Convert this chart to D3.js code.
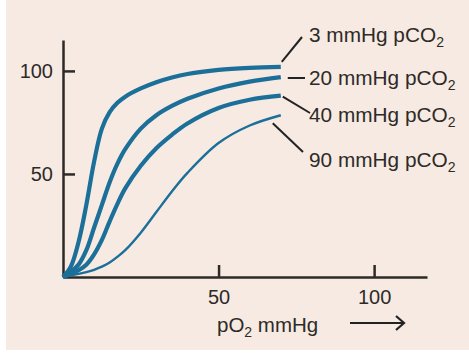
<!DOCTYPE html>
<html>
  <head>
    <meta charset="utf-8" />
    <title>oxygen dissociation curves</title>
    <script src="https://d3js.org/d3.v7.min.js"></script>
    <style>
      body { margin: 0; background: #fff; }
      text { font-family: "Liberation Sans", Arial, sans-serif; fill: #2e2a28; }
    </style>
  </head>
  <body>
    <script>
      // pO2 (mmHg) sample points shared by all curves
      const pO2 = [0, 2.5, 5, 7.5, 10, 12.5, 15, 17.5, 20, 25, 30, 35, 40, 50, 60, 70];

      // % saturation, one list per pCO2
      const sat3 = [0, 5, 17, 35, 56, 72, 80, 84.5, 87.5, 91.5, 94.5, 96.8, 98.5, 100.5, 101.5, 102];
      const sat20 = [0, 2.5, 6, 13, 24, 35, 46, 55, 62, 72, 78.5, 83, 86.5, 91.5, 94.8, 97];
      const sat40 = [0, 1.5, 3.3, 6, 11, 18, 27, 35.5, 43, 54, 62.5, 69, 74.5, 82, 86, 88];
      const sat90 = [0, 0.7, 1.5, 2.4, 3.5, 5, 7, 9.8, 13, 21.5, 31.5, 41.5, 50.5, 65, 73.5, 78.5];

      const seriesNames = ["3", "20", "40", "90"];
      const seriesValues = [sat3, sat20, sat40, sat90];

      const xTicks = [50, 100];
      const yTicks = [50, 100];

      const W = 469, H = 353;
      const blue = "#1b6f98";
      const ink = "#2e2a28";

      const svg = d3.select("body").append("svg")
        .attr("width", W).attr("height", H);

      // pale background panel (thin white strip at left and bottom)
      svg.append("rect").attr("x", 6).attr("y", 0)
        .attr("width", W - 6).attr("height", 350)
        .attr("fill", "#f6eae2");

      const x = d3.scaleLinear().domain([0, 117]).range([63, 427]);
      const y = d3.scaleLinear().domain([0, 115]).range([277, 40]);

      // x axis: ticks point up, labels below
      const gx = svg.append("g").attr("transform", `translate(0,${y(0)})`)
        .call(d3.axisBottom(x).tickValues(xTicks).tickSize(-12).tickSizeOuter(0).tickPadding(13));
      // y axis: ticks point right
      const gy = svg.append("g").attr("transform", `translate(${x(0)},0)`)
        .call(d3.axisLeft(y).tickValues(yTicks).tickSize(-12).tickSizeOuter(0).tickPadding(10));

      [gx, gy].forEach((g) => {
        g.selectAll("path, line").attr("stroke", ink).attr("stroke-width", 2.5);
        g.selectAll("text").attr("font-size", 20).attr("fill", "#333")
          .attr("font-family", "'Liberation Sans', Arial, sans-serif");
      });
      gy.selectAll("text").attr("dy", "0.35em");

      // the curves
      const line = d3.line()
        .x((d, i) => x(pO2[i]))
        .y((d) => y(d))
        .curve(d3.curveCatmullRom.alpha(0.5));

      const widths = [4.2, 4.2, 4.2, 2.4];
      svg.append("g").selectAll("path")
        .data(seriesValues)
        .join("path")
        .attr("d", line)
        .attr("fill", "none")
        .attr("stroke", blue)
        .attr("stroke-width", (d, i) => widths[i])
        .attr("stroke-linecap", "butt");

      // labels with leader lines, offsets relative to curve end
      const labelBase = [42, 85, 122, 167];
      const leaderFrom = [[1, -5], [7, 1], [2, 1], [-8, 8]];
      const leaderTo = [[302, 37], [305, 78], [310, 113], [303, 152]];

      const last = pO2.length - 1;
      seriesValues.forEach((vals, i) => {
        const ex = x(pO2[last]), ey = y(vals[last]);
        svg.append("line")
          .attr("x1", ex + leaderFrom[i][0]).attr("y1", ey + leaderFrom[i][1])
          .attr("x2", leaderTo[i][0]).attr("y2", leaderTo[i][1])
          .attr("stroke", "#222").attr("stroke-width", 2);

        const t = svg.append("text").attr("x", 309).attr("y", labelBase[i])
          .attr("font-size", 20.8);
        t.append("tspan").text(seriesNames[i] + " mmHg pCO");
        t.append("tspan").attr("font-size", 14).attr("dy", 5).text("2");
      });

      // x axis title and arrow
      const xt = svg.append("text").attr("x", 217).attr("y", 332).attr("font-size", 20.5);
      xt.append("tspan").text("pO");
      xt.append("tspan").attr("font-size", 14).attr("dy", 5).text("2");
      xt.append("tspan").attr("dy", -5).text(" mmHg");

      svg.append("line").attr("x1", 350).attr("y1", 323).attr("x2", 404).attr("y2", 323)
        .attr("stroke", "#222").attr("stroke-width", 2);
      svg.append("path").attr("d", "M396,316 L404,323 L396,330")
        .attr("fill", "none").attr("stroke", "#222").attr("stroke-width", 2.2);
    </script>
  </body>
</html>
